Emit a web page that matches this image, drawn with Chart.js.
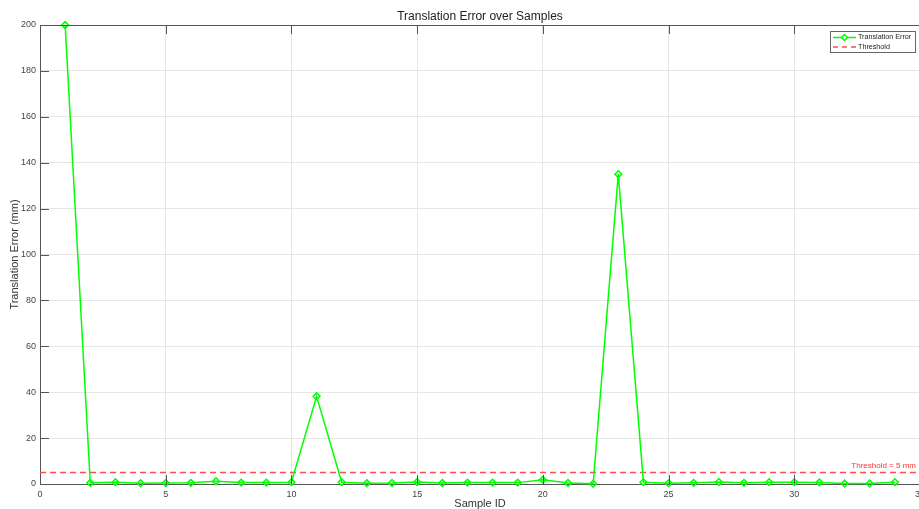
<!DOCTYPE html>
<html>
<head>
<meta charset="utf-8">
<script src="https://cdn.jsdelivr.net/npm/chart.js@4.4.1/dist/chart.umd.min.js"></script>
<style>
  html, body { margin: 0; padding: 0; overflow: hidden; background: #fff; }
  #wrap { width: 930px; height: 509px; }
</style>
</head>
<body>
<div id="wrap"><canvas id="c" width="930" height="509"></canvas></div>
<script>
// ---- data ----
const sampleIds = [1,2,3,4,5,6,7,8,9,10,11,12,13,14,15,16,17,18,19,20,21,22,23,24,25,26,27,28,29,30,31,32,33,34];
const translationError = [200,0.5,0.8,0.3,0.4,0.5,1.2,0.6,0.6,0.8,38.2,0.8,0.3,0.4,0.9,0.4,0.6,0.6,0.6,1.8,0.4,0.1,135,0.8,0.3,0.5,0.9,0.5,0.8,0.8,0.7,0.2,0.2,0.8];
const thresholdValue = 5;
const xLimits = [0, 35];
const yLimits = [0, 200];
const xTickStep = 5;
const yTickStep = 20;
const titleText = 'Translation Error over Samples';
const xTitle = 'Sample ID';
const yTitle = 'Translation Error (mm)';
const seriesLabels = ['Translation Error', 'Threshold'];
const thresholdLabel = 'Threshold = ' + thresholdValue + ' mm';

const FONT = '"Liberation Sans", Arial, Helvetica, sans-serif';
const GREEN = '#00ff00';
const RED = '#ff4d4d';
const AXIS = '#555555';

const matlabPlugin = {
  id: 'matlab',
  afterDatasetsDraw(chart) {
    const {ctx, chartArea: a, scales: {x, y}} = chart;
    ctx.save();
    // top border
    ctx.strokeStyle = AXIS;
    ctx.lineWidth = 1;
    ctx.beginPath();
    ctx.moveTo(a.left, a.top + 0.5);
    ctx.lineTo(a.right, a.top + 0.5);
    ctx.stroke();
    // inward ticks
    const tl = 9;
    ctx.beginPath();
    x.ticks.forEach(t => {
      const px = Math.round(x.getPixelForValue(t.value)) + 0.5;
      ctx.moveTo(px, a.bottom); ctx.lineTo(px, a.bottom - tl);
      ctx.moveTo(px, a.top); ctx.lineTo(px, a.top + tl);
    });
    y.ticks.forEach(t => {
      const py = Math.round(y.getPixelForValue(t.value)) + 0.5;
      ctx.moveTo(a.left, py); ctx.lineTo(a.left + tl, py);
    });
    ctx.stroke();
    // threshold label
    ctx.fillStyle = '#ff3333';
    ctx.font = '8px ' + FONT;
    ctx.textAlign = 'right';
    ctx.textBaseline = 'middle';
    ctx.fillText(thresholdLabel, a.right - 4, y.getPixelForValue(thresholdValue) - 6.5);
    // legend
    const bw = 85, bh = 21;
    const bx = a.right - 5 - bw, by = a.top + 6;
    ctx.fillStyle = '#fff';
    ctx.fillRect(bx, by, bw, bh);
    ctx.strokeStyle = '#666';
    ctx.lineWidth = 1;
    ctx.strokeRect(bx + 0.5, by + 0.5, bw, bh);
    const r1 = by + 6.5, r2 = by + 16;
    const l0 = bx + 3, l1 = bx + 26;
    ctx.lineWidth = 1.5;
    ctx.strokeStyle = GREEN;
    ctx.beginPath(); ctx.moveTo(l0, r1); ctx.lineTo(l1, r1); ctx.stroke();
    const mx = (l0 + l1) / 2, mr = 3;
    ctx.beginPath();
    ctx.moveTo(mx, r1 - mr); ctx.lineTo(mx + mr, r1); ctx.lineTo(mx, r1 + mr); ctx.lineTo(mx - mr, r1); ctx.closePath();
    ctx.fillStyle = '#fff'; ctx.fill(); ctx.stroke();
    ctx.strokeStyle = RED;
    ctx.setLineDash([5, 4]);
    ctx.beginPath(); ctx.moveTo(l0, r2); ctx.lineTo(l1, r2); ctx.stroke();
    ctx.setLineDash([]);
    ctx.fillStyle = '#222';
    ctx.font = '7.2px ' + FONT;
    ctx.textAlign = 'left';
    ctx.fillText(seriesLabels[0], l1 + 2, r1);
    ctx.fillText(seriesLabels[1], l1 + 2, r2);
    ctx.restore();
  }
};

new Chart(document.getElementById('c'), {
  type: 'line',
  data: {
    datasets: [
      {
        label: seriesLabels[0],
        data: sampleIds.map((id, i) => ({x: id, y: translationError[i]})),
        borderColor: GREEN,
        borderWidth: 1.5,
        pointStyle: 'rectRot',
        pointRadius: 3.4,
        pointBorderWidth: 1.5,
        pointBorderColor: GREEN,
        pointBackgroundColor: 'rgba(255,255,255,0)',
        tension: 0,
        order: 1
      },
      {
        label: seriesLabels[1],
        data: xLimits.map(v => ({x: v, y: thresholdValue})),
        borderColor: RED,
        borderWidth: 1.5,
        borderDash: [6, 4],
        pointRadius: 0,
        tension: 0,
        order: 2
      }
    ]
  },
  options: {
    responsive: false,
    animation: false,
    clip: false,
    layout: { padding: { left: 0, right: 10, top: 0, bottom: 0 } },
    plugins: {
      legend: { display: false },
      tooltip: { enabled: false },
      title: {
        display: true,
        text: titleText,
        fullSize: false,
        color: '#222',
        font: { family: FONT, size: 12, weight: 'normal' },
        padding: { top: 9, bottom: 1.6 }
      }
    },
    scales: {
      x: {
        type: 'linear',
        min: xLimits[0], max: xLimits[1],
        afterFit(s) { s.height = 25; },
        ticks: { stepSize: xTickStep, color: '#444', font: { family: FONT, size: 9 }, padding: 5, maxRotation: 0 },
        grid: { color: '#e6e6e6', drawTicks: false },
        border: { color: AXIS, width: 1 },
        title: { display: true, text: xTitle, color: '#333', font: { family: FONT, size: 11 }, padding: { top: 0, bottom: -2 } }
      },
      y: {
        type: 'linear',
        min: yLimits[0], max: yLimits[1],
        afterFit(s) { s.width = 40; },
        ticks: { stepSize: yTickStep, color: '#444', font: { family: FONT, size: 9 }, padding: 4 },
        grid: { color: '#e6e6e6', drawTicks: false },
        border: { color: AXIS, width: 1 },
        title: { display: true, text: yTitle, color: '#333', font: { family: FONT, size: 11 }, padding: { top: 8.5, bottom: 0 } }
      }
    }
  },
  plugins: [matlabPlugin]
});
</script>
</body>
</html>
